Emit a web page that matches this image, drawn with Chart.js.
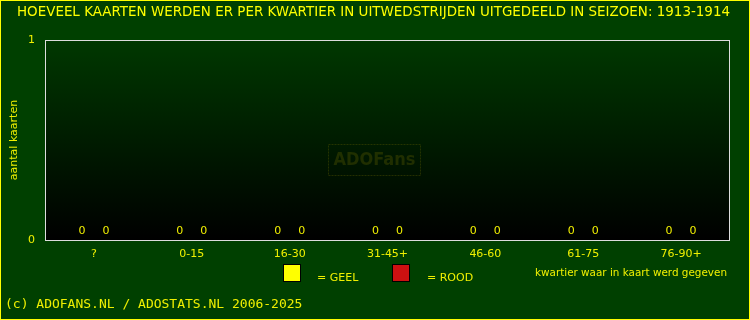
<!DOCTYPE html>
<html>
<head>
<meta charset="utf-8">
<script src="https://cdn.jsdelivr.net/npm/chart.js@4"></script>
<style>
  html, body { margin: 0; padding: 0; background: #004000; }
  #wrap { width: 750px; height: 320px; }
</style>
</head>
<body>
<div id="wrap"><canvas id="kaartenChart" width="750" height="320"></canvas></div>
<script>
const kwartieren = ["?", "0-15", "16-30", "31-45+", "46-60", "61-75", "76-90+"];
const geel = [0, 0, 0, 0, 0, 0, 0];
const rood = [0, 0, 0, 0, 0, 0, 0];
const yTicks = [0, 1];

const titel = "HOEVEEL KAARTEN WERDEN ER PER KWARTIER IN UITWEDSTRIJDEN UITGEDEELD IN SEIZOEN: 1913-1914";
const xTitel = "kwartier waar in kaart werd gegeven";
const yTitel = "aantal kaarten";
const voetnoot = "(c) ADOFANS.NL / ADOSTATS.NL 2006-2025";

const GEEL_KLEUR = "#ffff00";
const ROOD_KLEUR = "#cc1111";
const TEKST = "#f0f000";

const achtergrond = {
    id: "achtergrond",
    beforeDraw(chart) {
        const ctx = chart.ctx;
        const a = chart.chartArea;
        ctx.save();
        ctx.fillStyle = "#004000";
        ctx.fillRect(0, 0, chart.width, chart.height);
        ctx.strokeStyle = "#ffff00";
        ctx.lineWidth = 1;
        ctx.strokeRect(0.5, 0.5, chart.width - 1, chart.height - 1);

        const grad = ctx.createLinearGradient(0, a.top, 0, a.bottom);
        grad.addColorStop(0, "#003800");
        grad.addColorStop(1, "#000000");
        ctx.fillStyle = grad;
        ctx.fillRect(a.left, a.top, a.right - a.left, a.bottom - a.top);
        ctx.restore();
    },
    beforeDatasetsDraw(chart) {
        // watermerk
        const ctx = chart.ctx;
        ctx.save();
        ctx.strokeStyle = "rgba(80, 85, 0, 0.45)";
        ctx.setLineDash([2, 1]);
        ctx.lineWidth = 1;
        ctx.strokeRect(328.5, 144.5, 92, 31);
        ctx.setLineDash([]);
        ctx.fillStyle = "rgba(80, 85, 0, 0.4)";
        ctx.font = "bold 18px 'DejaVu Sans Condensed', 'DejaVu Sans'";
        ctx.textAlign = "center";
        ctx.textBaseline = "middle";
        ctx.fillText("ADOFans", 374.5, 160.5, 84);
        ctx.restore();
    },
    afterDraw(chart) {
        const ctx = chart.ctx;
        const a = chart.chartArea;
        ctx.save();
        ctx.strokeStyle = "#dddddd";
        ctx.lineWidth = 1;
        ctx.strokeRect(a.left + 0.5, a.top + 0.5, a.right - a.left - 1, a.bottom - a.top);

        ctx.fillStyle = TEKST;
        ctx.textAlign = "center";
        ctx.textBaseline = "middle";
        ctx.font = "11px 'DejaVu Sans'";
        chart.data.datasets.forEach((ds, i) => {
            const meta = chart.getDatasetMeta(i);
            meta.data.forEach((bar, j) => {
                ctx.fillText(String(ds.data[j]), bar.x, bar.y - 9);
            });
        });

        // titel
        ctx.fillStyle = GEEL_KLEUR;
        ctx.font = "13.5px 'DejaVu Sans'";
        ctx.fillText(titel, 373.5, 12, 713);

        // legenda
        ctx.strokeStyle = "#000000";
        ctx.fillStyle = GEEL_KLEUR;
        ctx.fillRect(283, 264, 18, 18);
        ctx.strokeRect(283.5, 264.5, 17, 17);
        ctx.fillStyle = ROOD_KLEUR;
        ctx.fillRect(392, 264, 18, 18);
        ctx.strokeRect(392.5, 264.5, 17, 17);
        ctx.fillStyle = TEKST;
        ctx.textAlign = "left";
        ctx.font = "11px 'DejaVu Sans'";
        ctx.fillText("= GEEL", 317, 278);
        ctx.fillText("= ROOD", 427, 278);
        ctx.fillText(xTitel, 535, 273, 192);

        // voetnoot
        ctx.font = "13px 'DejaVu Sans Mono'";
        ctx.fillText(voetnoot, 5, 305, 301);
        ctx.restore();
    }
};

new Chart(document.getElementById("kaartenChart"), {
    type: "bar",
    data: {
        labels: kwartieren,
        datasets: [
            { label: "GEEL", data: geel, backgroundColor: GEEL_KLEUR, borderColor: "#000", borderWidth: 1 },
            { label: "ROOD", data: rood, backgroundColor: ROOD_KLEUR, borderColor: "#000", borderWidth: 1 }
        ]
    },
    options: {
        responsive: false,
        animation: false,
        categoryPercentage: 0.49,
        barPercentage: 0.8,
        layout: { padding: { top: 40, right: 20, left: 0, bottom: 0 } },
        plugins: {
            legend: { display: false },
            tooltip: { enabled: false }
        },
        scales: {
            x: {
                grid: { display: false, drawTicks: false },
                border: { display: false },
                ticks: { color: TEKST, font: { family: "DejaVu Sans", size: 11 }, padding: 8, maxRotation: 0 },
                afterFit(scale) { scale.height = 80; }
            },
            y: {
                min: 0,
                max: 1,
                grid: { display: false, drawTicks: false },
                border: { display: false },
                afterBuildTicks(scale) { scale.ticks = yTicks.map(v => ({ value: v })); },
                ticks: { color: TEKST, font: { family: "DejaVu Sans", size: 11 }, padding: 10 },
                title: {
                    display: true,
                    text: yTitel,
                    color: TEKST,
                    font: { family: "DejaVu Sans", size: 11 },
                    padding: { top: 8, bottom: 0 }
                },
                afterFit(scale) { scale.width = 45; }
            }
        }
    },
    plugins: [achtergrond]
});
</script>
</body>
</html>
